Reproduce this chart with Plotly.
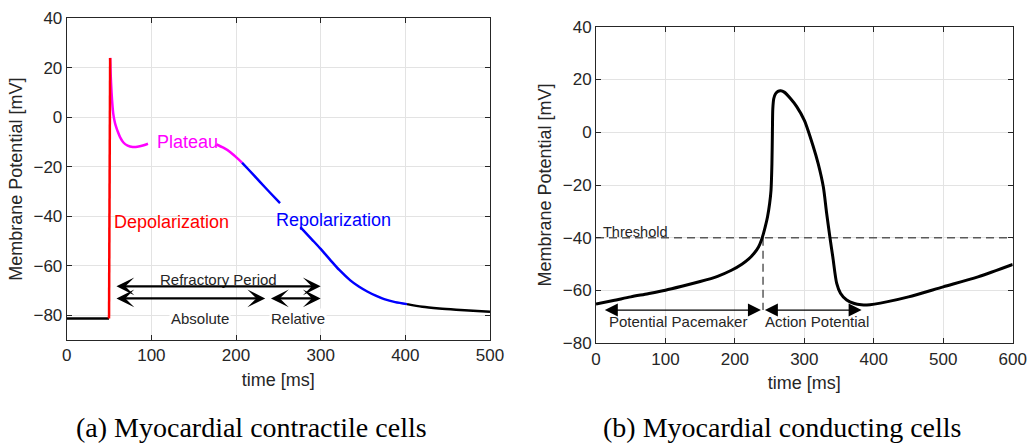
import plotly.graph_objects as go

# ---------------- Data: (a) myocardial contractile cells ----------------
rest_t = [0, 50]
rest_v = [-81.3, -81.3]

depol_t = [50, 51.3]
depol_v = [-81.3, 24]

plateau_t = [51.3, 52, 53, 54, 55, 56.5, 58, 60, 63, 67, 72, 78, 85, 91, 96,
             None, 177, 185, 193, 201, 207]
plateau_v = [24, 17, 10, 5, 1.5, -1.5, -3.5, -5.5, -8, -10.2, -11.5, -12, -11.8, -11.3, -10.7,
             None, -11, -12.3, -14, -16.4, -18.3]

repol_t = [207, 215, 228, 240, 252, None,
           276, 290, 300, 311, 322, 335, 345, 355, 365, 375, 388, 402]
repol_v = [-18.3, -21.2, -26, -30.4, -34.7, None,
           -44.4, -49.5, -53.2, -57.5, -61.7, -65.9, -68.4, -70.4, -72.1, -73.5, -74.7, -75.5]

tail_t = [402, 420, 440, 460, 480, 500]
tail_v = [-75.5, -76.6, -77.3, -77.8, -78.2, -78.6]

# refractory arrows (start ms, end ms, level mV)
refractory = [57, 300, -68.3]
absolute = [57, 234.5, -73.2]
relative = [239.5, 300, -73.2]

# ---------------- Data: (b) myocardial conducting cells ----------------
cond_t = [0, 25, 50, 75, 100, 125, 150, 175, 195, 210, 220, 228, 234, 238, 241, 244, 247,
          250, 252, 253.3, 254, 254.6, 256, 258.5, 262, 266, 271, 280, 289, 300, 312.9,
          320, 327.3, 332, 337, 341, 346.6, 352, 361, 372, 382, 390, 420, 450, 500, 550, 600]
cond_v = [-65.1, -63.8, -62.4, -61.2, -59.9, -58.3, -56.6, -54.6, -52.3, -50, -48, -45.8,
          -43.5, -41, -38.5, -35.5, -32, -27, -22, -12, 0, 9, 12.8, 14.6, 15.5, 15.7, 15.2,
          12.8, 9.7, 4.5, -5.5, -12, -20.7, -30.5, -40.2, -47.3, -57.3, -61, -63.6, -64.9,
          -65.4, -65.5, -64.2, -62.4, -58.6, -54.8, -50.1]

threshold_t = [0, 600]
threshold_v = [-40, -40]
onset_t = [240.5, 240.5]
onset_v = [-40, -67.4]

pacemaker_arrow = [10.5, 237.5, -67.4]
action_arrow = [241, 382.5, -67.4]

x_ticks_a = [0, 100, 200, 300, 400, 500]
x_ticks_b = [0, 100, 200, 300, 400, 500, 600]
y_ticks_a = [-80, -60, -40, -20, 0, 20, 40]
y_ticks_b = [-80, -60, -40, -20, 0, 20, 40]

W, H = 1028, 443
SANS = "Liberation Sans, Arial, sans-serif"
SERIF = "Liberation Serif, Times New Roman, serif"
AX = "#262626"
GRID = "#e3e3e3"

fig = go.Figure()

def line(x, y, color, xa, ya, width=2.5, dash=None, smooth=False):
    ln = dict(color=color, width=width, dash=dash)
    if smooth:
        ln.update(shape="spline", smoothing=0.8)
    fig.add_trace(go.Scatter(x=x, y=y, mode="lines", xaxis=xa, yaxis=ya, line=ln,
                             connectgaps=False, showlegend=False, hoverinfo="skip"))

line(rest_t, rest_v, "black", "x", "y")
line(tail_t, tail_v, "black", "x", "y", smooth=True)
line(repol_t, repol_v, "#0000ff", "x", "y", smooth=True)
line(plateau_t, plateau_v, "#ff00ff", "x", "y", smooth=True)
line(depol_t, depol_v, "#ff0000", "x", "y")

line(threshold_t, threshold_v, "#5a5a5a", "x2", "y2", width=1.5, dash="8px,5px")
line(onset_t, onset_v, "#5a5a5a", "x2", "y2", width=1.5, dash="8px,5px")
line(cond_t, cond_v, "black", "x2", "y2", width=3, smooth=True)

def ax_common(domain, rng, ticks, anchor):
    return dict(domain=domain, range=rng, tickvals=ticks, anchor=anchor, automargin=False,
                showgrid=True, gridcolor=GRID, gridwidth=1, zeroline=False,
                showline=True, linecolor=AX, linewidth=1, mirror="ticks",
                ticks="inside", ticklen=5, tickcolor=AX,
                tickfont=dict(family=SANS, size=17, color=AX))

fig.update_layout(
    width=W, height=H,
    margin=dict(l=0, r=0, t=0, b=0),
    paper_bgcolor="white", plot_bgcolor="white",
    xaxis=dict(**ax_common([66.7 / W, 490 / W], [0, 500], x_ticks_a, "y"),
               title=dict(text="time [ms]", font=dict(family=SANS, size=18, color=AX), standoff=8)),
    yaxis=dict(**ax_common([1 - 340 / H, 1 - 18.3 / H], [-90, 40], y_ticks_a, "x"),
               title=dict(text="Membrane Potential [mV]", font=dict(family=SANS, size=18, color=AX), standoff=6)),
    xaxis2=dict(**ax_common([596 / W, 1012.7 / W], [0, 600], x_ticks_b, "y2"),
                title=dict(text="time [ms]", font=dict(family=SANS, size=18, color=AX), standoff=8)),
    yaxis2=dict(**ax_common([1 - 343.3 / H, 1 - 26.7 / H], [-80, 40], y_ticks_b, "x2"),
                title=dict(text="Membrane Potential [mV]", font=dict(family=SANS, size=18, color=AX), standoff=6)),
)

ann = []

def label(text, x, y, xr, yr, color="#262626", size=15, bg=None):
    d = dict(text=text, x=x, y=y, xref=xr, yref=yr, showarrow=False,
             xanchor="center", yanchor="middle",
             font=dict(family=SANS, size=size, color=color))
    if bg:
        d.update(bgcolor=bg, borderpad=1)
    ann.append(d)

def arrow(x0, x1, yv, xr, yr, head, size, width):
    ann.append(dict(text="", x=x1, y=yv, ax=x0, ay=yv, xref=xr, yref=yr,
                    axref=xr, ayref=yr, showarrow=True,
                    arrowhead=head, startarrowhead=head, arrowside="end+start",
                    arrowsize=size, startarrowsize=size, arrowwidth=width,
                    arrowcolor="black", standoff=0, startstandoff=0))

label("Plateau", 142.5, -10, "x", "y", color="#ff00ff", size=18)
label("Depolarization", 123.5, -42.3, "x", "y", color="#ff0000", size=18)
label("Repolarization", 315, -41.7, "x", "y", color="#0000ff", size=18)
label("Refractory Period", 179.8, -65.6, "x", "y", size=15)
label("Absolute", 157.8, -81.3, "x", "y", size=15, bg="white")
label("Relative", 273.4, -81.3, "x", "y", size=15, bg="white")

arrow(refractory[0], refractory[1], refractory[2], "x", "y", 3, 1.35, 2.2)
arrow(absolute[0], absolute[1], absolute[2], "x", "y", 3, 1.35, 2.2)
arrow(relative[0], relative[1], relative[2], "x", "y", 3, 1.35, 2.2)

label("Threshold", 55.9, -37.8, "x2", "y2", size=14.5)
label("Potential Pacemaker", 118.5, -71.9, "x2", "y2", size=15)
label("Action Potential", 318.7, -71.9, "x2", "y2", size=15)
arrow(pacemaker_arrow[0], pacemaker_arrow[1], pacemaker_arrow[2], "x2", "y2", 2, 2.0, 1.3)
arrow(action_arrow[0], action_arrow[1], action_arrow[2], "x2", "y2", 2, 2.0, 1.3)

ann.append(dict(text="(a) Myocardial contractile cells", x=251.5 / W, y=1 - 427 / H,
                xref="paper", yref="paper", showarrow=False, xanchor="center", yanchor="middle",
                font=dict(family=SERIF, size=28, color="black")))
ann.append(dict(text="(b) Myocardial conducting cells", x=781.7 / W, y=1 - 427 / H,
                xref="paper", yref="paper", showarrow=False, xanchor="center", yanchor="middle",
                font=dict(family=SERIF, size=28, color="black")))

fig.update_layout(annotations=ann)
fig.write_html("out.html")
